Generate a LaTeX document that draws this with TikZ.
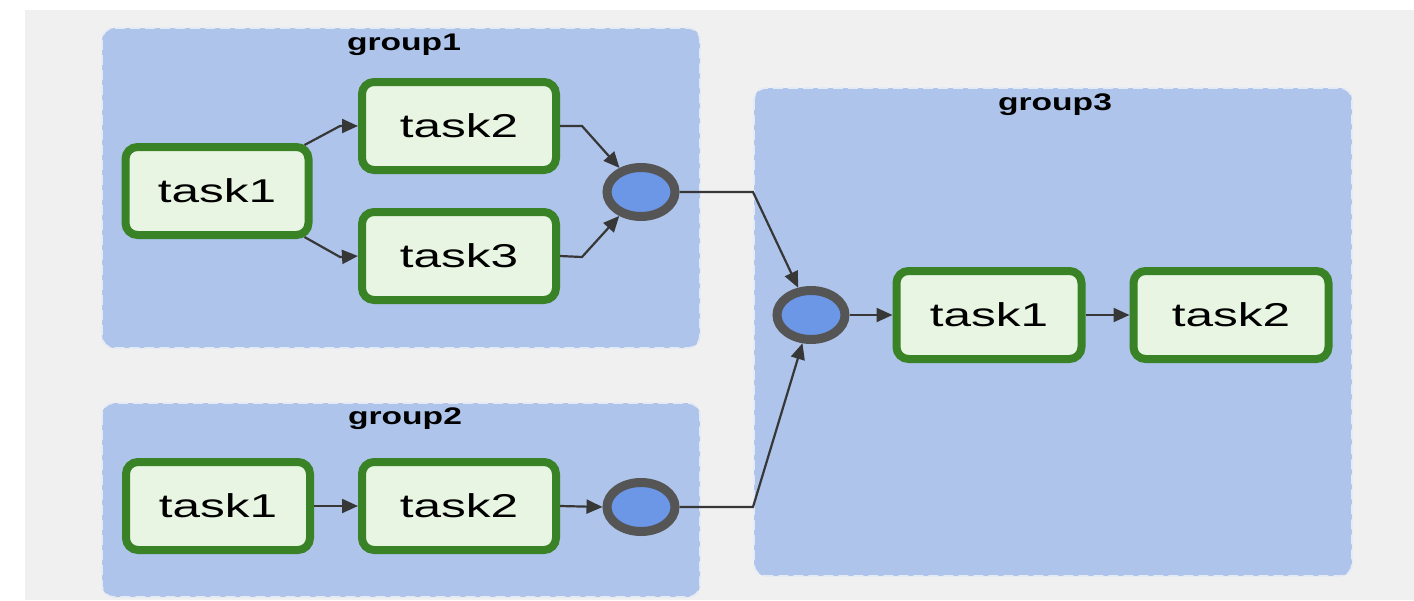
\documentclass[tikz,border=0pt]{standalone}
\usepackage{fontspec}
\usepackage{graphicx}
\setmainfont{Liberation Sans}
\usetikzlibrary{arrows.meta,shapes.geometric}
\definecolor{bgcol}{RGB}{240,240,240}
\definecolor{grpcol}{RGB}{174,196,234}
\definecolor{grpline}{RGB}{228,234,246}
\definecolor{taskfill}{RGB}{232,245,226}
\definecolor{taskline}{RGB}{58,130,38}
\definecolor{joinfill}{RGB}{108,150,230}
\definecolor{joinline}{RGB}{85,85,85}
\definecolor{edgecol}{RGB}{55,55,55}
\newcommand\widetask[1]{\scalebox{1.5}[1]{#1}}
\newcommand\widegroup[1]{\scalebox{1.4}[1]{#1}}
\begin{document}
\begin{tikzpicture}[x=0.5pt,y=-0.5pt,
  taskbox/.style={draw=taskline, fill=taskfill, line width=4pt, rounded corners=6pt,
    minimum height=44pt, inner sep=0pt, font=\fontsize{16.5}{16.5}\selectfont},
  joinnode/.style={ellipse, draw=joinline, fill=joinfill, line width=4.5pt,
    minimum width=34pt, minimum height=24.5pt, inner sep=0pt},
  groupbox/.style={fill=grpcol, draw=grpline, line width=0.8pt,
    dash pattern=on 5pt off 2.5pt, rounded corners=6pt},
  grouplabel/.style={font=\bfseries\fontsize{12}{12}\selectfont, inner sep=0pt},
  flow/.style={draw=edgecol, line width=1.1pt, -{Triangle[length=8pt,width=7pt]}}
]
\useasboundingbox (0,0) rectangle (1414,600);
\fill[white] (0,0) rectangle (1414,600);
\fill[bgcol] (25,10) rectangle (1414,600);

% groups
\draw[groupbox] (102,28) rectangle (700,348);
\draw[groupbox] (102,403) rectangle (700,597);
\draw[groupbox] (754,88) rectangle (1352,576);
\node[grouplabel] (g1lab) at (404,45) {\widegroup{group1}};
\node[grouplabel] (g2lab) at (405,419) {\widegroup{group2}};
\node[grouplabel] (g3lab) at (1055,105) {\widegroup{group3}};

% group1
\node[taskbox, minimum width=91.5pt] (a1) at (217,191) {\widetask{task1}};
\node[taskbox, minimum width=97pt] (a2) at (459,126) {\widetask{task2}};
\node[taskbox, minimum width=97pt] (a3) at (459,256) {\widetask{task3}};
\node[joinnode] (aj) at (641,192) {};

% group2
\node[taskbox, minimum width=92pt] (b1) at (218,506) {\widetask{task1}};
\node[taskbox, minimum width=97pt] (b2) at (459,506) {\widetask{task2}};
\node[joinnode] (bj) at (641,507) {};

% group3
\node[joinnode] (cj) at (811,315) {};
\node[taskbox, minimum width=92.5pt] (c1) at (989,315) {\widetask{task1}};
\node[taskbox, minimum width=97.5pt] (c2) at (1231,315) {\widetask{task2}};

% edges
\draw[flow] (a1.north east) ++(-8,2) -- (340,126) -- (a2.west);
\draw[flow] (a1.south east) ++(-8,-2) -- (340,257) -- (a3.west);
\draw[flow] (a2.east) -- (582,126) -- (aj);
\draw[flow] (a3.east) -- (582,257) -- (aj);
\draw[flow] (aj.east) -- (753,192) -- (cj);
\draw[flow] (bj.east) -- (753,507) -- (cj);
\draw[flow] (b1.east) -- (b2.west);
\draw[flow] (b2.east) -- (bj.west);
\draw[flow] (cj.east) -- (c1.west);
\draw[flow] (c1.east) -- (c2.west);
\end{tikzpicture}
\end{document}
